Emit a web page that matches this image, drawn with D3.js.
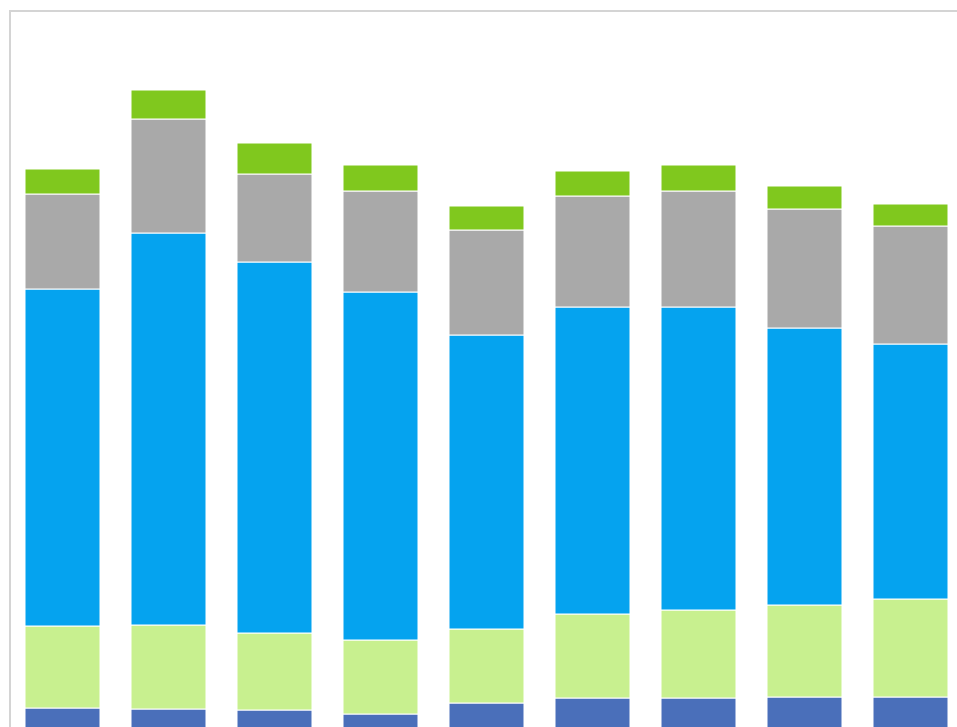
<!DOCTYPE html>
<html>
<head>
<meta charset="utf-8">
<script src="https://cdn.jsdelivr.net/npm/d3@7"></script>
<style>
  body { margin: 0; background: #fff; overflow: hidden; }
</style>
</head>
<body>
<script>
document.addEventListener('DOMContentLoaded', function () {

  const w = 957;
  const h = 727;

  // categories (no labels visible in the picture)
  const categories = ['c1', 'c2', 'c3', 'c4', 'c5', 'c6', 'c7', 'c8', 'c9'];
  const seriesNames = ['s1', 's2', 's3', 's4', 's5'];
  const colors = ['#4a6fba', '#c8f08f', '#05a3ef', '#a9a9a9', '#80c81e'];

  // series values, bottom to top
  const s1 = [32, 31, 30, 26, 37, 42, 42, 43, 43];
  const s2 = [82, 84, 77, 74, 74, 84, 88, 92, 98];
  const s3 = [337, 392, 371, 348, 294, 307, 303, 277, 255];
  const s4 = [95, 114, 88, 101, 105, 111, 116, 119, 118];
  const s5 = [25, 29, 31, 26, 24, 25, 26, 23, 22];

  const table = categories.map((c, i) => ({
    cat: c, s1: s1[i], s2: s2[i], s3: s3[i], s4: s4[i], s5: s5[i]
  }));

  const stacked = d3.stack().keys(seriesNames)(table);

  const xScale = d3.scaleBand().
  domain(categories).
  range([9.5, 963.5]).
  paddingInner(0.2925).
  paddingOuter(0.14625);

  const yScale = d3.scaleLinear().
  domain([0, 700]).
  range([740, 40]);

  const svg = d3.select('body').
  append('svg').
  attr('width', w).
  attr('height', h);

  // chart frame (runs off the right and bottom edge)
  svg.append('rect').
  attr('x', 10).
  attr('y', 11).
  attr('width', 1000).
  attr('height', 1000).
  attr('fill', 'none').
  attr('stroke', '#d4d4d4').
  attr('stroke-width', 2);

  svg.selectAll('g.layer').
  data(stacked).
  enter().
  append('g').
  attr('class', 'layer').
  attr('fill', (d, i) => colors[i]).
  selectAll('rect').
  data(d => d).
  enter().
  append('rect').
  attr('x', d => xScale(d.data.cat)).
  attr('y', d => yScale(d[1])).
  attr('width', xScale.bandwidth()).
  attr('height', d => yScale(d[0]) - yScale(d[1])).
  attr('stroke', '#fff').
  attr('stroke-width', 1);

});
</script>
</body>
</html>
